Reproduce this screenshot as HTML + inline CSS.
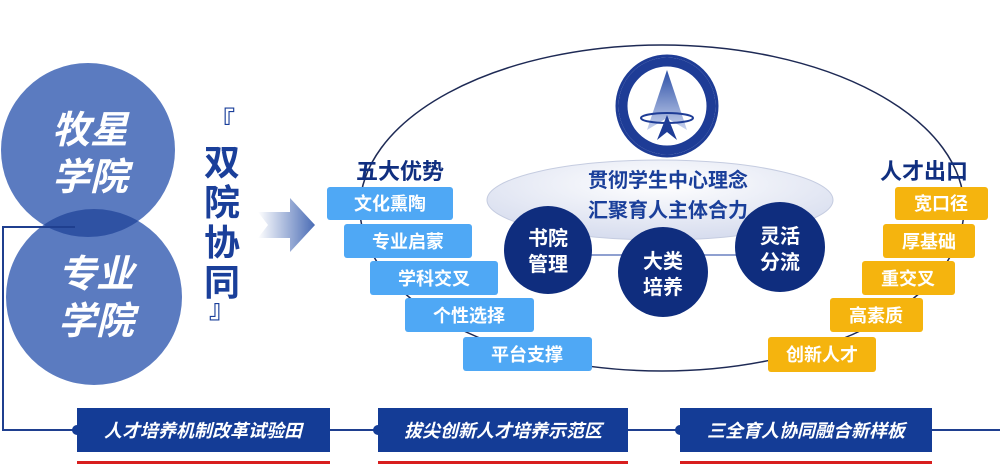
<!DOCTYPE html>
<html><head><meta charset="utf-8"><style>
html,body{margin:0;padding:0;background:#fff;}
svg{display:block;}
text{font-family:"Liberation Sans","Noto Sans CJK SC",sans-serif;font-weight:bold;}
</style></head><body>
<svg width="1000" height="464" viewBox="0 0 1000 464" xmlns="http://www.w3.org/2000/svg">
<defs>
<linearGradient id="arr" x1="0" x2="1"><stop offset="0" stop-color="#fff"/><stop offset="1" stop-color="#4a6cb5"/></linearGradient>
<radialGradient id="inner" cx="0.5" cy="0.3" r="0.7"><stop offset="0" stop-color="#ffffff"/><stop offset="1" stop-color="#d6dcee"/></radialGradient>
<linearGradient id="tri" x1="0" y1="0" x2="0" y2="1"><stop offset="0" stop-color="#2b4fa6"/><stop offset="1" stop-color="#c9d3ee"/></linearGradient>
</defs>
<!-- left circles -->
<circle cx="88" cy="150" r="87" fill="#5b7bc0"/>
<circle cx="94" cy="297" r="88" fill="#5b7bc0"/>
<clipPath id="c1"><circle cx="88" cy="150" r="87"/></clipPath>
<circle cx="94" cy="297" r="88" fill="#2f52a3" clip-path="url(#c1)"/>
<g fill="#fff" font-size="38" text-anchor="middle" style="font-style:italic">
<text x="90" y="143">牧星</text><text x="90" y="190">学院</text>
<text x="96" y="287">专业</text><text x="96" y="334">学院</text>
</g>
<polyline points="75,227 3,227 3,430 77,430" fill="none" stroke="#1f3f8f" stroke-width="2"/>
<!-- vertical text -->
<g fill="#1a3f9a" font-size="36" text-anchor="middle">
<text x="222" y="130" font-size="26">『</text>
<text x="222" y="175">双</text><text x="222" y="215">院</text><text x="222" y="255">协</text><text x="222" y="295">同</text>
<text x="222" y="318" font-size="26">』</text>
</g>
<polygon points="258,212 290,212 290,198 315,225 290,252 290,238 258,238 268,225" fill="url(#arr)"/>
<!-- big ellipse -->
<ellipse cx="662" cy="208" rx="302" ry="163" fill="none" stroke="#1e2a55" stroke-width="1.5"/>
<ellipse cx="660" cy="200" rx="173" ry="40" fill="url(#inner)" stroke="#c5cce0"/>
<!-- logo -->
<circle cx="667" cy="106" r="50" fill="#fff" stroke="#1e3c96" stroke-width="3"/>
<circle cx="667" cy="106" r="44" fill="none" stroke="#1e3c96" stroke-width="9"/>
<polygon points="667,70 647,130 667,118 687,130" fill="url(#tri)"/>
<polygon points="667,115 657,140 667,132 677,140" fill="#1e3c96"/>
<ellipse cx="667" cy="118" rx="26" ry="5" fill="none" stroke="#1e3c96" stroke-width="2"/>
<!-- center texts -->
<g fill="#1a3f9a" font-size="20" text-anchor="middle">
<text x="668" y="187">贯彻学生中心理念</text>
<text x="668" y="217">汇聚育人主体合力</text>
</g>
<line x1="548" y1="255" x2="780" y2="255" stroke="#8fa0d0" stroke-width="2"/>
<g fill="#0f2d7e"><circle cx="548" cy="250" r="44"/><circle cx="663" cy="272" r="45"/><circle cx="780" cy="247" r="45"/></g>
<g fill="#fff" font-size="20" text-anchor="middle">
<text x="548" y="245">书院</text><text x="548" y="271">管理</text>
<text x="663" y="268">大类</text><text x="663" y="294">培养</text>
<text x="780" y="243">灵活</text><text x="780" y="269">分流</text>
</g>
<!-- left blue boxes -->
<text x="400" y="179" fill="#102f80" font-size="22" text-anchor="middle">五大优势</text>
<g fill="#4fa8f5">
<rect x="327" y="187" width="126" height="33" rx="3"/>
<rect x="344" y="224" width="128" height="34" rx="3"/>
<rect x="370" y="261" width="128" height="34" rx="3"/>
<rect x="405" y="298" width="129" height="34" rx="3"/>
<rect x="463" y="337" width="129" height="34" rx="3"/>
</g>
<g fill="#fff" font-size="18" text-anchor="middle">
<text x="390" y="210">文化熏陶</text><text x="408" y="248">专业启蒙</text><text x="434" y="285">学科交叉</text><text x="469" y="322">个性选择</text><text x="527" y="361">平台支撑</text>
</g>
<!-- right yellow -->
<text x="924" y="179" fill="#102f80" font-size="22" text-anchor="middle">人才出口</text>
<g fill="#f5b40e">
<rect x="895" y="187" width="93" height="33" rx="3"/>
<rect x="883" y="224" width="92" height="34" rx="3"/>
<rect x="862" y="261" width="93" height="34" rx="3"/>
<rect x="830" y="298" width="93" height="34" rx="3"/>
<rect x="768" y="337" width="108" height="35" rx="3"/>
</g>
<g fill="#fff" font-size="18" text-anchor="middle">
<text x="941" y="210">宽口径</text><text x="929" y="248">厚基础</text><text x="908" y="285">重交叉</text><text x="876" y="322">高素质</text><text x="822" y="361">创新人才</text>
</g>
<!-- bottom -->
<line x1="330" y1="430" x2="680" y2="430" stroke="#1f3f8f" stroke-width="2"/>
<line x1="932" y1="430" x2="1000" y2="430" stroke="#1f3f8f" stroke-width="2"/>
<g fill="#143c96">
<rect x="77" y="408" width="253" height="44"/><rect x="378" y="408" width="250" height="44"/><rect x="680" y="408" width="252" height="44"/>
<circle cx="77" cy="430" r="5"/><circle cx="378" cy="430" r="5"/><circle cx="680" cy="430" r="5"/>
</g>
<g fill="#d81e1e"><rect x="77" y="461" width="253" height="3"/><rect x="378" y="461" width="250" height="3"/><rect x="680" y="461" width="252" height="3"/></g>
<g fill="#fff" font-size="18" text-anchor="middle" style="font-style:italic">
<text x="203" y="437">人才培养机制改革试验田</text><text x="503" y="437">拔尖创新人才培养示范区</text><text x="806" y="437">三全育人协同融合新样板</text>
</g>
</svg>
</body></html>
